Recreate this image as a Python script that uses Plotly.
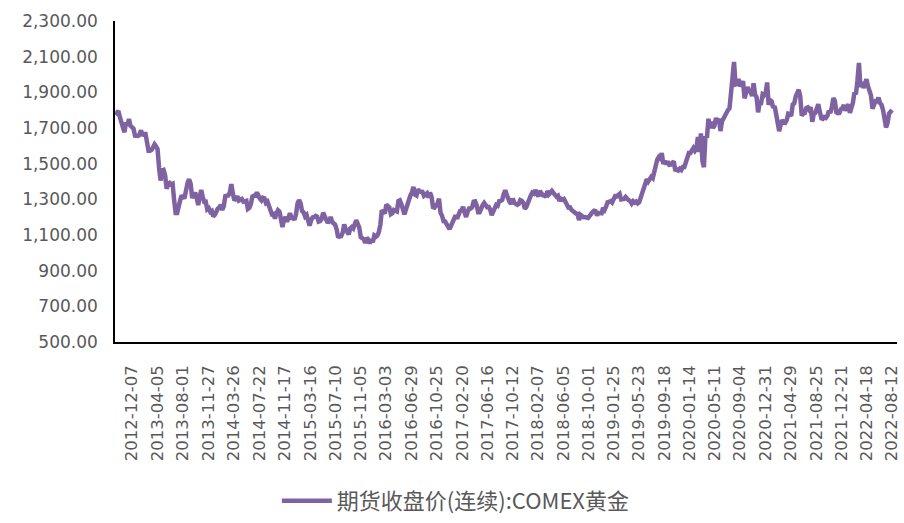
import pandas as pd
import plotly.graph_objects as go

# Weekly closes of COMEX gold continuous futures, USD/oz, grouped by year
# (first / last week of each block given with the block).
blocks = [
    ("2012-09-21", "2012-12-28", [
        1773, 1792, 1796, 1759, 1724, 1712, 1676, 1731, 1714, 1751, 1712, 1705, 1696, 1657, 1656]),
    ("2013-01-04", "2013-12-27", [
        1656, 1662, 1687, 1657, 1667, 1667, 1609, 1572, 1572, 1577, 1592, 1608, 1596,
        1581, 1476, 1405, 1462, 1465, 1436, 1359, 1386, 1392, 1383, 1387, 1297, 1223,
        1223, 1277, 1294, 1322, 1310, 1312, 1371, 1395, 1412, 1386, 1308, 1332, 1338,
        1309, 1268, 1315, 1352, 1314, 1286, 1287, 1244, 1250, 1230, 1235, 1204, 1213]),
    ("2014-01-03", "2014-12-26", [
        1238, 1247, 1254, 1270, 1240, 1263, 1318, 1323, 1321, 1338, 1385, 1334, 1294,
        1303, 1318, 1293, 1300, 1302, 1287, 1293, 1292, 1246, 1252, 1274, 1316, 1320,
        1320, 1338, 1310, 1303, 1294, 1309, 1306, 1280, 1287, 1267, 1231, 1216, 1218,
        1192, 1222, 1239, 1231, 1171, 1145, 1186, 1201, 1175, 1205, 1222, 1196, 1195]),
    ("2015-01-02", "2015-12-25", [
        1186, 1217, 1277, 1296, 1278, 1234, 1227, 1204, 1212, 1167, 1152, 1182, 1199,
        1201, 1207, 1203, 1175, 1178, 1189, 1225, 1205, 1190, 1168, 1180, 1201, 1173,
        1163, 1157, 1131, 1085, 1095, 1094, 1113, 1160, 1133, 1121, 1103, 1137, 1145,
        1137, 1156, 1183, 1163, 1142, 1088, 1081, 1076, 1056, 1084, 1075, 1053, 1076]),
    ("2016-01-01", "2016-12-30", [
        1060, 1097, 1090, 1097, 1116, 1157, 1239, 1230, 1221, 1271, 1258, 1255, 1217,
        1222, 1240, 1234, 1232, 1290, 1294, 1273, 1252, 1216, 1243, 1275, 1298, 1322,
        1339, 1370, 1327, 1322, 1357, 1344, 1343, 1342, 1320, 1327, 1334, 1310, 1338,
        1316, 1257, 1254, 1267, 1276, 1304, 1225, 1208, 1178, 1177, 1162, 1137, 1133,
        1152]),
    ("2017-01-06", "2017-12-29", [
        1173, 1197, 1210, 1191, 1221, 1235, 1239, 1258, 1226, 1201, 1230, 1249, 1249,
        1256, 1287, 1289, 1268, 1228, 1228, 1255, 1268, 1280, 1271, 1256, 1257, 1242,
        1212, 1228, 1254, 1269, 1264, 1290, 1291, 1297, 1330, 1351, 1325, 1297, 1284,
        1275, 1304, 1280, 1272, 1269, 1275, 1296, 1292, 1281, 1248, 1257, 1279, 1309]),
    ("2018-01-05", "2018-12-28", [
        1322, 1338, 1333, 1352, 1333, 1316, 1347, 1330, 1323, 1323, 1313, 1347, 1327,
        1336, 1347, 1336, 1323, 1315, 1320, 1291, 1303, 1298, 1302, 1278, 1270, 1254,
        1255, 1241, 1231, 1223, 1220, 1219, 1184, 1213, 1206, 1200, 1201, 1201, 1196,
        1206, 1222, 1229, 1236, 1234, 1210, 1223, 1223, 1222, 1252, 1241, 1259, 1283]),
    ("2019-01-04", "2019-12-27", [
        1286, 1290, 1282, 1303, 1318, 1316, 1322, 1331, 1299, 1299, 1302, 1313, 1298,
        1295, 1290, 1276, 1289, 1281, 1287, 1277, 1284, 1311, 1346, 1352, 1399, 1413,
        1400, 1412, 1426, 1419, 1457, 1509, 1523, 1537, 1529, 1560, 1499, 1515, 1497,
        1512, 1493, 1494, 1505, 1513, 1459, 1468, 1462, 1472, 1465, 1481, 1481, 1515]),
    ("2020-01-03", "2020-12-25", [
        1552, 1560, 1560, 1571, 1587, 1573, 1586, 1649, 1566, 1670, 1516, 1480, 1654,
        1645, 1752, 1698, 1735, 1700, 1713, 1756, 1735, 1751, 1683, 1737, 1753, 1781,
        1790, 1801, 1810, 1897, 1986, 2070, 1944, 1947, 1975, 1934, 1947, 1962, 1866,
        1900, 1930, 1906, 1905, 1879, 1951, 1886, 1872, 1788, 1840, 1840, 1889, 1883]),
    ("2021-01-01", "2021-12-31", [
        1895, 1955, 1830, 1856, 1850, 1813, 1823, 1777, 1734, 1682, 1720, 1744, 1732,
        1729, 1744, 1780, 1777, 1768, 1832, 1838, 1877, 1905, 1915, 1878, 1769, 1781,
        1784, 1811, 1815, 1802, 1817, 1735, 1779, 1784, 1819, 1833, 1792, 1754, 1751,
        1761, 1757, 1768, 1796, 1784, 1818, 1868, 1852, 1788, 1783, 1784, 1805, 1811,
        1829]),
    ("2022-01-07", "2022-08-12", [
        1797, 1817, 1832, 1785, 1807, 1842, 1899, 1889, 1966, 2065, 1929, 1958, 1924,
        1946, 1974, 1934, 1897, 1883, 1808, 1842, 1851, 1850, 1871, 1840, 1830, 1801,
        1742, 1703, 1727, 1781, 1791, 1801]),
]

dates, prices = [], []
for first, last, vals in blocks:
    dates.extend(pd.date_range(first, last, periods=len(vals)))
    prices.extend(vals)

tick_labels = [
    "2012-12-07", "2013-04-05", "2013-08-01", "2013-11-27", "2014-03-26", "2014-07-22",
    "2014-11-17", "2015-03-16", "2015-07-10", "2015-11-05", "2016-03-03", "2016-06-29",
    "2016-10-25", "2017-02-20", "2017-06-16", "2017-10-12", "2018-02-07", "2018-06-05",
    "2018-10-01", "2019-01-25", "2019-05-23", "2019-09-18", "2020-01-14", "2020-05-11",
    "2020-09-04", "2020-12-31", "2021-04-29", "2021-08-25", "2021-12-21", "2022-04-18",
    "2022-08-12",
]
y_ticks = list(range(500, 2301, 200))

series_name = "期货收盘价(连续):COMEX黄金"
purple = "#7F62A2"
gray = "#595959"

fig = go.Figure()
fig.add_trace(go.Scatter(
    x=dates, y=prices, mode="lines", name=series_name,
    line=dict(color=purple, width=4.5), showlegend=True,
))

fig.update_layout(
    width=904, height=523,
    margin=dict(l=115, r=7, t=21, b=181, autoexpand=False),
    paper_bgcolor="white", plot_bgcolor="white",
    showlegend=True,
    legend=dict(
        orientation="h", x=0.207, xanchor="left", y=-0.43, yanchor="top",
        font=dict(family="Noto Sans CJK SC", size=22, color=gray),
        itemwidth=50,
    ),
    xaxis=dict(
        type="date", range=["2012-09-19", "2022-09-04"],
        tickmode="array", tickvals=tick_labels, ticktext=tick_labels,
        tickangle=-90, showgrid=False, zeroline=False,
        showline=True, linecolor="black", linewidth=1.5,
        ticks="", ticklabelstandoff=15,
        tickfont=dict(family="DejaVu Sans", size=16.5, color=gray),
    ),
    yaxis=dict(
        range=[500, 2300], tickmode="array", tickvals=y_ticks,
        tickformat=",.2f", showgrid=False, zeroline=False,
        showline=True, linecolor="black", linewidth=1.5,
        ticks="", ticklabelstandoff=12,
        tickfont=dict(family="DejaVu Sans", size=17, color=gray),
    ),
)

fig.write_html("out.html")
